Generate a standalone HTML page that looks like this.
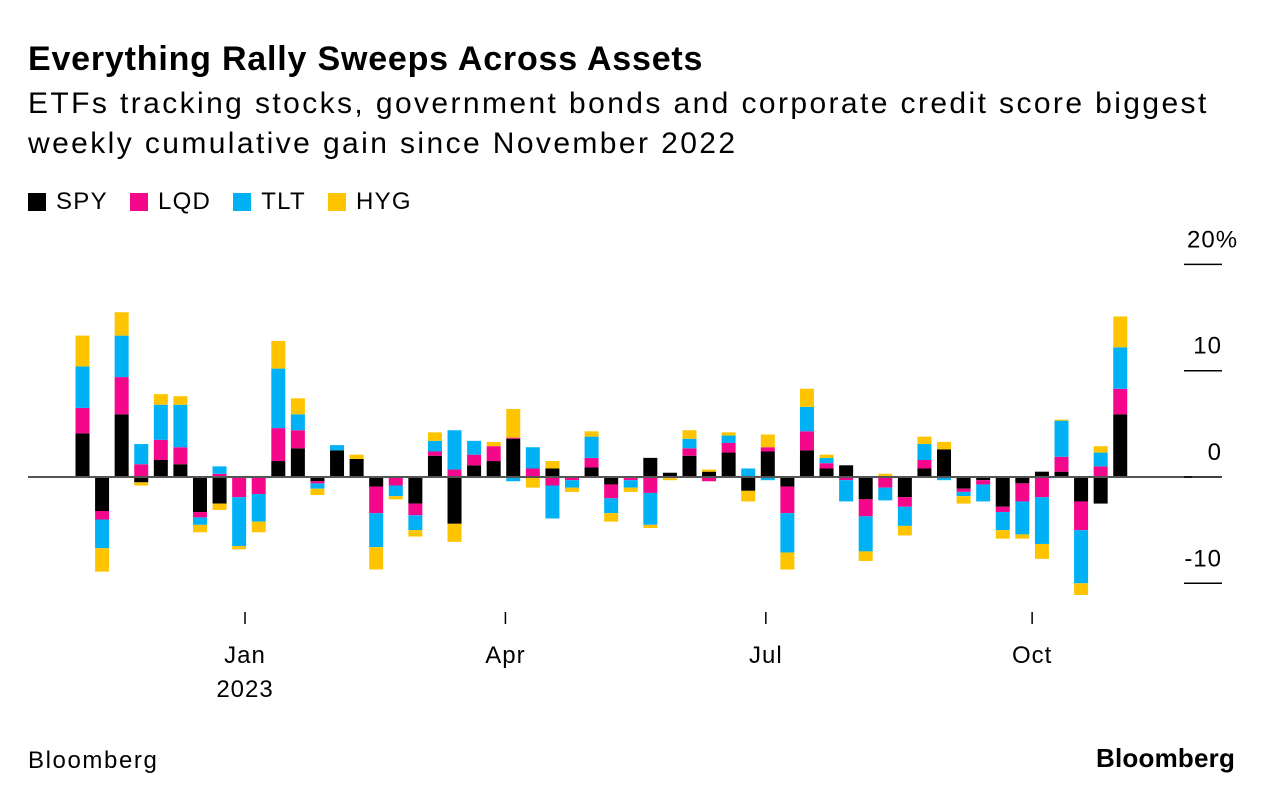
<!DOCTYPE html>
<html><head><meta charset="utf-8">
<style>
body{margin:0;background:#fff;width:1273px;height:802px;overflow:hidden;font-family:"Liberation Sans",sans-serif;}
.t{position:absolute;left:28px;top:40px;font-size:34px;font-weight:bold;color:#000;letter-spacing:0.8px;white-space:nowrap}
.s{position:absolute;left:28px;top:84px;font-size:30px;line-height:40px;color:#000;white-space:nowrap;letter-spacing:2.4px}
.lg{position:absolute;top:188px;left:28px;font-size:24px;display:flex;gap:0;letter-spacing:1.3px}
.li{display:flex;align-items:center;margin-right:22px}
.sw{width:18px;height:18px;margin-right:10px}
.f1{position:absolute;left:28px;top:747px;font-size:24px;letter-spacing:1.6px}
.f2{position:absolute;left:1096px;top:743px;font-size:26px;font-weight:bold;letter-spacing:0.2px}
</style></head><body>
<div class="t">Everything Rally Sweeps Across Assets</div>
<div class="s">ETFs tracking stocks, government bonds and corporate credit score biggest<br>weekly cumulative gain since November 2022</div>
<div class="lg">
<div class="li"><div class="sw" style="background:#000"></div>SPY</div>
<div class="li"><div class="sw" style="background:#f5078c"></div>LQD</div>
<div class="li"><div class="sw" style="background:#00b1f5"></div>TLT</div>
<div class="li"><div class="sw" style="background:#ffc400"></div>HYG</div>
</div>
<svg id="c" width="1273" height="802" style="position:absolute;left:0;top:0"></svg>
<div class="f1">Bloomberg</div>
<div class="f2">Bloomberg</div>
<script>
const spy=[4.1,-3.2,5.9,-0.5,1.6,1.2,-3.3,-2.5,0,0,1.5,2.7,-0.4,2.5,1.7,-0.9,0,-2.5,2.0,-4.4,1.1,1.5,3.6,0,0.8,0,0.9,-0.7,-0.1,1.8,0.4,2.0,0.5,2.3,-1.3,2.4,-0.9,2.5,0.8,1.1,-2.1,0,-1.9,0.8,2.6,-1.1,-0.3,-2.8,-0.6,0.5,0.5,-2.3,-2.5,5.9];
const lqd=[2.4,-0.8,3.5,1.2,1.9,1.6,-0.5,0.3,-1.9,-1.6,3.1,1.7,-0.2,0,0,-2.5,-0.8,-1.1,0.4,0.7,1.0,1.4,0.1,0.8,-0.8,-0.3,0.9,-1.3,-0.2,-1.5,-0.1,0.7,-0.4,0.9,0,0.4,-2.5,1.8,0.5,-0.3,-1.6,-1.0,-0.9,0.8,0,-0.3,-0.4,-0.5,-1.7,-1.9,1.4,-2.7,1.0,2.4];
const tlt=[3.9,-2.7,3.9,1.9,3.3,4.0,-0.7,0.7,-4.6,-2.6,5.6,1.5,-0.5,0.5,0,-3.2,-1.0,-1.4,1.0,3.7,1.3,0,-0.4,2.0,-3.1,-0.7,2.0,-1.4,-0.7,-3.0,0,0.9,0,0.7,0.8,-0.3,-3.7,2.3,0.5,-2.0,-3.3,-1.2,-1.8,1.5,-0.3,-0.4,-1.6,-1.7,-3.1,-4.4,3.4,-5.0,1.3,3.9];
const hyg=[2.9,-2.2,2.2,-0.3,1.0,0.8,-0.7,-0.6,-0.3,-1.0,2.6,1.5,-0.6,0,0.4,-2.1,-0.3,-0.6,0.8,-1.7,-0.1,0.4,2.7,-1.0,0.7,-0.4,0.5,-0.8,-0.4,-0.3,-0.2,0.8,0.2,0.3,-1.0,1.2,-1.6,1.7,0.3,0,-0.9,0.3,-0.9,0.7,0.7,-0.7,0,-0.8,-0.4,-1.4,0.1,-1.1,0.6,2.9];
const yTicks=[20,10,0,-10];
const xTickLabels=["Jan","Apr","Jul","Oct"];
const xTickIdx=[8.3,21.6,34.9,48.5];
const NS="http://www.w3.org/2000/svg";
const svg=document.getElementById('c');
const y=v=>477-v*10.63;
const x=i=>82.5+i*19.58;
function mk(t,a){const e=document.createElementNS(NS,t);for(const k in a)e.setAttribute(k,a[k]);svg.appendChild(e);return e;}
const series=[[spy,'#000','spy'],[lqd,'#f5078c','lqd'],[tlt,'#00b1f5','tlt'],[hyg,'#ffc400','hyg']];
for(let i=0;i<spy.length;i++){
  let pos=0,neg=0;
  for(const [arr,col,nm] of series){
    const v=arr[i]; if(!v) continue;
    let y0,y1;
    if(v>0){y0=y(pos+v);y1=y(pos);pos+=v;}else{y0=y(neg);y1=y(neg+v);neg+=v;}
    const r=mk('rect',{x:x(i)-7,y:y0,width:14,height:Math.max(0,y1-y0),fill:col});
    
    
  }
}
const z=mk('line',{x1:28,x2:1192,y1:y(0),y2:y(0),stroke:'#555','stroke-width':2});


yTicks.forEach(t=>{
  const l=mk('line',{x1:1184,x2:1222,y1:y(t),y2:y(t),stroke:'#000','stroke-width':1.5});
  
  
  const tx=mk('text',{x:t===20?1187:1222,y:y(t)-17,'font-size':24,'letter-spacing':1,'text-anchor':t===20?'start':'end','font-family':'Liberation Sans, sans-serif',fill:'#000'});
  tx.textContent=t===20?'20%':String(t);
  
  
});
xTickLabels.forEach((lb,k)=>{
  const xx=x(xTickIdx[k]);
  const l=mk('line',{x1:xx,x2:xx,y1:612,y2:624,stroke:'#000','stroke-width':1.5});
  
  
  const tx=mk('text',{x:xx,y:663,'font-size':24,'letter-spacing':1,'text-anchor':'middle','font-family':'Liberation Sans, sans-serif',fill:'#000'});
  tx.textContent=lb;
  
  
});
const yr=mk('text',{x:x(xTickIdx[0]),y:697,'font-size':24,'letter-spacing':1,'text-anchor':'middle','font-family':'Liberation Sans, sans-serif',fill:'#000'});
yr.textContent='2023';


</script>
</body></html>
